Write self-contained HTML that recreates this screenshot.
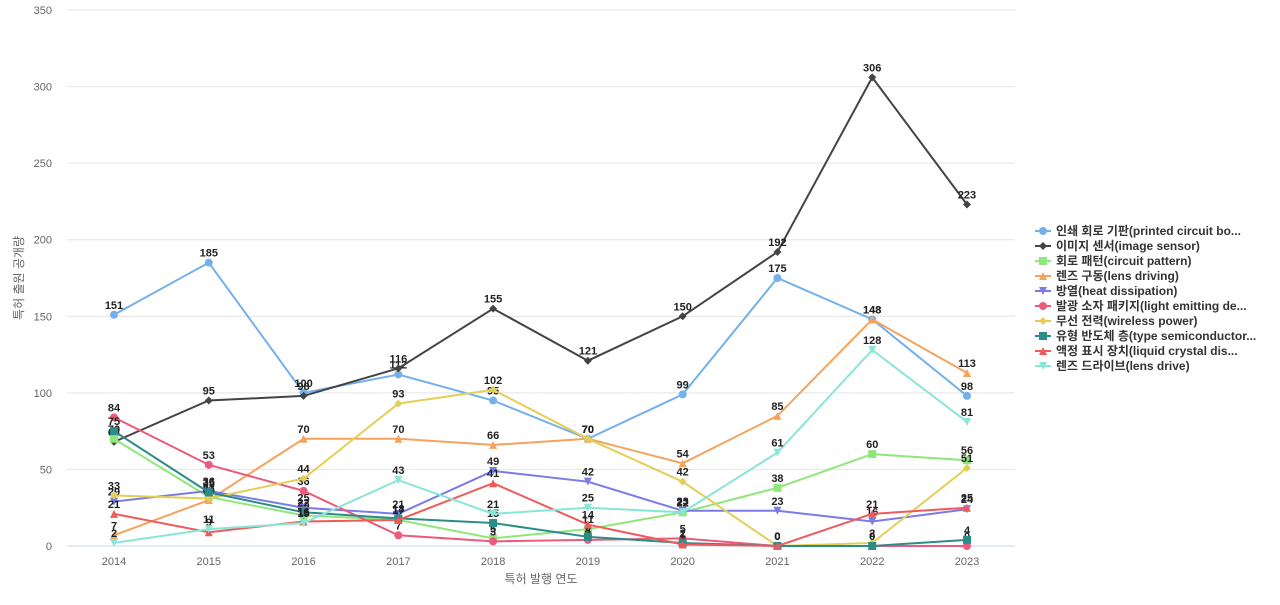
<!DOCTYPE html>
<html><head><meta charset="utf-8"><style>
body{margin:0;background:#fff;font-family:"Liberation Sans","Noto Sans CJK KR",sans-serif}
svg text{font-family:"Liberation Sans","Noto Sans CJK KR",sans-serif}
</style></head><body>
<svg id="c" width="1280" height="600"></svg>
<script>
const years=[2014,2015,2016,2017,2018,2019,2020,2021,2022,2023];
const yTicks=[0,50,100,150,200,250,300,350];
const sPcb=[151,185,100,112,95,70,99,175,148,98];
const sImg=[68,95,98,116,155,121,150,192,306,223];
const sPat=[70,32,20,17,5,11,22,38,60,56];
const sLensDrv=[7,30,70,70,66,70,54,85,148,113];
const sHeat=[29,36,25,21,49,42,23,23,16,24];
const sLed=[84,53,36,7,3,4,5,0,0,0];
const sWire=[33,31,44,93,102,70,42,0,2,51];
const sSemi=[75,35,22,18,15,6,2,0,0,4];
const sLcd=[21,9,16,17,41,14,1,0,21,25];
const sLens=[2,11,15,43,21,25,22,61,128,81];
const names=["인쇄 회로 기판(printed circuit bo...","이미지 센서(image sensor)","회로 패턴(circuit pattern)","렌즈 구동(lens driving)","방열(heat dissipation)","발광 소자 패키지(light emitting de...","무선 전력(wireless power)","유형 반도체 층(type semiconductor...","액정 표시 장치(liquid crystal dis...","렌즈 드라이브(lens drive)"];
const series=[sPcb,sImg,sPat,sLensDrv,sHeat,sLed,sWire,sSemi,sLcd,sLens];
const colors=["#74b0ec","#444444","#8fe67a","#f5a35c","#7b7be8","#ec5a7c","#e3cf55","#2b8c88","#f05a5a","#88e6d8"];
const shapes=["circle","diamond","square","tri","dtri","circle","diamond","square","tri","dtri"];
const NS="http://www.w3.org/2000/svg";
const svg=document.getElementById('c');
const X0=67,X1=1015,Y0=546,Y1=10;
const x=i=>114+i*(967-114)/(years.length-1);
const y=v=>Y0-(v/350)*(Y0-Y1);
function mk(t,a,p){const e=document.createElementNS(NS,t);for(const k in a)e.setAttribute(k,a[k]);(p||svg).appendChild(e);return e;}
yTicks.forEach(t=>{
 const l=mk('line',{x1:X0,x2:X1,y1:y(t),y2:y(t),stroke:t===0?'#c9d6e8':'#e4e4e4'});
 
 
 const tx=mk('text',{x:52,y:y(t)+4,'text-anchor':'end','font-size':11,fill:'#666'});tx.textContent=t;
 
 
});
years.forEach((yr,i)=>{
 const tx=mk('text',{x:x(i),y:565,'text-anchor':'middle','font-size':11,fill:'#666'});tx.textContent=yr;
 
 
});
const xt=mk('text',{x:541,y:583,'text-anchor':'middle','font-size':12,fill:'#666'});xt.textContent='특허 발행 연도';


const yt=mk('text',{x:23,y:278,'text-anchor':'middle','font-size':12,fill:'#666',transform:'rotate(-90 23 278)'});yt.textContent='특허 출원 공개량';


function marker(s,cx,cy,c,g,r){
 r=r||4;let e;
 if(s==='circle')e=mk('circle',{cx,cy,r,fill:c},g);
 else if(s==='square')e=mk('rect',{x:cx-r,y:cy-r,width:2*r,height:2*r,fill:c},g);
 else if(s==='diamond')e=mk('polygon',{points:`${cx},${cy-r} ${cx+r},${cy} ${cx},${cy+r} ${cx-r},${cy}`,fill:c},g);
 else if(s==='tri')e=mk('polygon',{points:`${cx},${cy-r} ${cx+r},${cy+r} ${cx-r},${cy+r}`,fill:c},g);
 else e=mk('polygon',{points:`${cx-r},${cy-r} ${cx+r},${cy-r} ${cx},${cy+r}`,fill:c},g);
 return e;
}
series.forEach((d,si)=>{
 const g=mk('g',{});
 
 
 const p=mk('polyline',{points:d.map((v,i)=>x(i)+','+y(v)).join(' '),fill:'none',stroke:colors[si],'stroke-width':2},g);
 
 
 d.forEach((v,i)=>{
  const m=marker(shapes[si],x(i),y(v),colors[si],g);
  
  
  const t=mk('text',{x:x(i),y:y(v)-6,'text-anchor':'middle','font-size':11,'font-weight':'bold',fill:'#222'},g);t.textContent=v;
  
  
 });
});
names.forEach((n,i)=>{
 const g=mk('g',{});
 
 
 const ly=231+i*15;
 mk('line',{x1:1035,x2:1051,y1:ly,y2:ly,stroke:colors[i],'stroke-width':2},g);
 marker(shapes[i],1043,ly,colors[i],g,4);
 const t=mk('text',{x:1056,y:ly+4,'font-size':12,'font-weight':'bold',fill:'#333'},g);t.textContent=n;
});
</script>
</body></html>
